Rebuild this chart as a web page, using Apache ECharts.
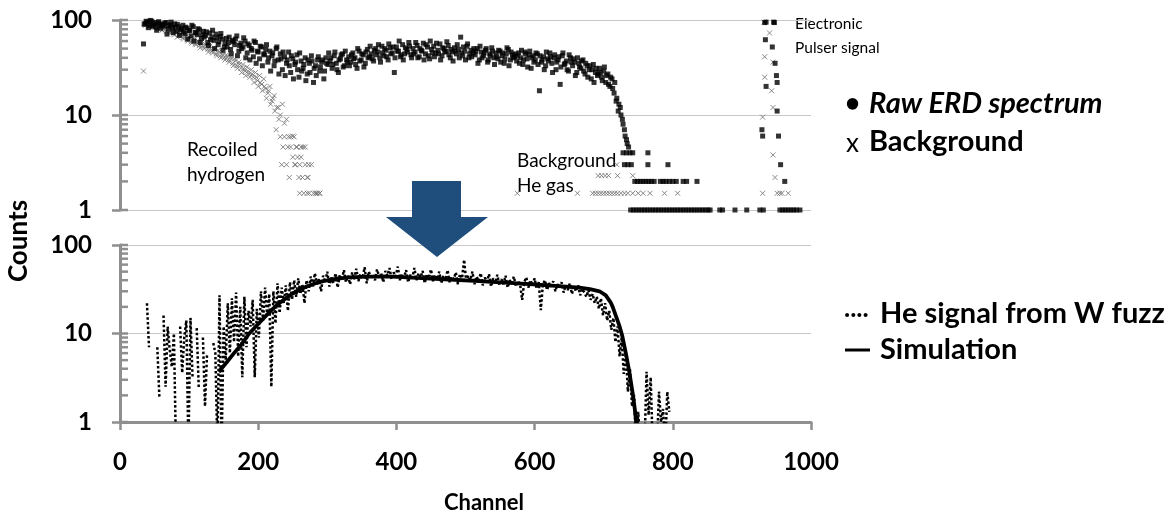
<!DOCTYPE html>
<html>
<head>
<meta charset="utf-8">
<script src="https://cdn.jsdelivr.net/npm/echarts@6/dist/echarts.min.js"></script>
<style>
  html, body { margin: 0; padding: 0; background: #ffffff; }
  #chart { width: 1176px; height: 518px; }
</style>
</head>
<body>
<div id="chart"></div>
<script>
// ---- axes ----
const channelTicks = [0, 200, 400, 600, 800, 1000];
const countTicks = [1, 10, 100];
const countMinorTicks = [1, 2, 3, 4, 5, 6, 7, 8, 9, 10, 20, 30, 40, 50, 60, 70, 80, 90, 100];

// ---- top panel: raw ERD spectrum, every 3 channels from channel 34 ----
const rawStart = 34, rawStep = 3;
const rawCounts = [
  56, 92, 95, 88, 97, 90, 84, 93, 87, 91,
  86, 94, 80, 89, 83, 91, 76, 85, 79, 88,
  72, 82, 77, 68, 85, 74, 70, 79, 64, 76,
  69, 58, 73, 66, 61, 71, 55, 67, 63, 52,
  64, 58, 49, 61, 55, 68, 47, 57, 52, 60,
  45, 54, 50, 41, 58, 47, 39, 52, 44, 49,
  36, 47, 42, 33, 50, 38, 44, 30, 41, 35,
  46, 28, 39, 34, 43, 25, 37, 31, 40, 27,
  35, 42, 22, 33, 38, 29, 36, 24, 40, 34,
  37, 31, 42, 35, 28, 39, 44, 33, 38, 41,
  36, 45, 40, 31, 47, 38, 43, 35, 49, 41,
  44, 37, 50, 46, 40, 53, 42, 48, 38, 51,
  45, 28, 52, 47, 41, 55, 44, 49, 58, 43,
  50, 46, 54, 41, 48, 57, 44, 52, 39, 49,
  53, 45, 48, 56, 42, 50, 47, 54, 40, 46,
  51, 44, 49, 66, 42, 47, 53, 40, 48, 45,
  43, 50, 38, 46, 42, 48, 36, 44, 51, 40,
  45, 39, 47, 42, 35, 44, 49, 38, 43, 41,
  37, 45, 40, 34, 46, 39, 43, 31, 42, 38,
  44, 18, 36, 41, 33, 39, 45, 35, 40, 30,
  38, 21, 42, 34, 37, 29, 40, 33, 36, 28,
  35, 31, 38, 27, 33, 30, 24, 34, 28, 26,
  31, 25, 29, 22, 27, 20, 24, 17, 14, 11,
  12, 9, 7, 5.5, 4.6
];
// raw ERD spectrum, the channels in between, every 3 channels from channel 35
const rawStartB = 35;
const rawCountsB = [
  90, 97, 83, 99, 86, 94, 78, 96, 82, 89,
  93, 71, 87, 95, 74, 84, 90, 69, 81, 75,
  84, 63, 78, 88, 60, 73, 81, 58, 70, 66,
  75, 54, 62, 78, 50, 65, 59, 72, 48, 57,
  52, 66, 44, 59, 63, 42, 54, 50, 65, 40,
  56, 38, 48, 60, 35, 46, 53, 33, 43, 55,
  40, 29, 45, 37, 52, 27, 39, 46, 26, 38,
  33, 42, 24, 36, 30, 45, 29, 34, 23, 38,
  28, 37, 31, 26, 41, 32, 38, 29, 35, 45,
  40, 34, 46, 30, 38, 43, 32, 47, 36, 33,
  43, 39, 34, 50, 37, 44, 32, 46, 40, 53,
  39, 48, 43, 55, 36, 45, 50, 41, 56, 44,
  52, 40, 47, 60, 43, 38, 51, 46, 53, 40,
  44, 58, 40, 50, 47, 38, 55, 42, 60, 45,
  41, 57, 44, 38, 51, 46, 59, 43, 49, 37,
  47, 55, 40, 45, 52, 38, 56, 44, 41, 50,
  47, 35, 53, 40, 45, 50, 38, 42, 47, 34,
  41, 48, 36, 45, 39, 51, 33, 46, 40, 44,
  42, 35, 48, 38, 44, 32, 47, 40, 36, 45,
  34, 42, 38, 30, 46, 37, 41, 28, 43, 36,
  41, 32, 45, 35, 30, 43, 36, 39, 26, 40,
  32, 37, 29, 35, 25, 33, 30, 22, 31, 27,
  28, 23, 32, 26, 21, 25, 19, 22, 15, 13,
  10, 8, 6, 5
];
// low-count tail of the raw spectrum [channel, counts]
const rawTail = [
  [728, 4], [733, 4], [738, 4], [742, 4], [764, 4],
  [730, 3], [735, 3], [740, 3], [764, 3], [793, 3],
  [745, 2], [749, 2], [753, 2], [757, 2], [761, 2], [765, 2], [769, 2], [773, 2],
  [782, 2], [786, 2], [790, 2], [795, 2], [800, 2], [805, 2], [815, 2], [820, 2], [835, 2], [962, 2],
  [739, 1], [743, 1], [747, 1], [751, 1], [755, 1], [759, 1], [763, 1], [767, 1], [771, 1], [775, 1],
  [779, 1], [783, 1], [787, 1], [791, 1], [795, 1], [799, 1], [803, 1], [807, 1], [811, 1], [815, 1],
  [819, 1], [823, 1], [827, 1], [831, 1], [835, 1], [839, 1], [843, 1], [847, 1], [851, 1], [854, 1],
  [868, 1], [872, 1], [890, 1], [907, 1], [926, 1], [931, 1],
  [955, 1], [959, 1], [963, 1], [967, 1], [971, 1], [975, 1], [979, 1], [984, 1]
];
// electronic pulser peak in the raw spectrum [channel, counts]
const rawPulser = [
  [929, 7], [930, 6], [933, 94], [935, 95], [934, 62], [935, 20], [944, 52], [946, 95],
  [947, 94], [948, 35], [950, 26], [951, 22], [951, 11], [953, 6], [956, 3]
];

// ---- top panel: background, every 3 channels from channel 34 ----
const bgStart = 34, bgStep = 3;
const bgCounts = [
  29, 88, 94, 85, 91, 83, 89, 80, 86, 78,
  84, 76, 81, 73, 79, 70, 75, 68, 72, 65,
  69, 62, 66, 59, 64, 56, 61, 54, 58, 52,
  55, 49, 53, 47, 51, 44, 48, 42, 46, 40,
  43, 38, 41, 35, 39, 33, 36, 31, 34, 29,
  32, 27, 30, 25, 28, 23, 26, 21, 24, 19,
  17, 20, 14, 16, 7, 12, 10, 13, 8.2, 9,
  5.9, 4.6, 6, 3, 4.6, 2.2, 3.6, 4.6, 3, 2.2,
  1.5, 3, 1.5, 1.5, 1.5, 1.5
];
// background, the channels in between, every 3 channels from channel 35
const bgStartB = 35;
const bgCountsB = [
  92, 95, 87, 97, 84, 90, 86, 82, 88, 80,
  79, 85, 74, 80, 71, 77, 66, 73, 69, 63,
  67, 60, 64, 57, 62, 55, 59, 51, 56, 50,
  53, 46, 50, 45, 49, 42, 46, 40, 43, 38,
  41, 36, 39, 33, 37, 31, 34, 28, 31, 26,
  29, 25, 27, 22, 25, 20, 22, 18, 20, 15,
  18, 13, 15, 11, 12, 9
];
// end of the recoiled hydrogen peak [channel, counts]
const bgHydrogenTail = [
  [232, 5.9], [238, 5.9], [247, 5.9], [252, 5.9], [236, 4.6], [243, 4.6], [255, 4.6], [262, 4.6],
  [268, 4.6], [250, 3.6], [257, 3.6], [234, 3], [241, 3], [254, 3], [260, 3], [273, 3],
  [245, 2.2], [264, 2.2], [272, 2.2], [260, 1.5], [266, 1.5], [271, 1.5], [284, 1.5], [289, 1.5]
];
// background He gas [channel, counts]
const bgHeGas = [
  [575, 1.5], [662, 1.5], [684, 1.5], [688, 1.5], [692, 1.5], [696, 1.5], [700, 1.5], [704, 1.5],
  [708, 1.5], [712, 1.5], [716, 1.5], [720, 1.5], [725, 1.5], [730, 1.5], [735, 1.5], [742, 1.5],
  [750, 1.5], [757, 1.5], [767, 1.5], [788, 1.5], [807, 1.5],
  [692, 2.3], [697, 2.3], [702, 2.3], [707, 2.3], [720, 2.3], [742, 2.3], [719, 3]
];
// pulser peak in the background [channel, counts]
const bgPulser = [
  [930, 9.5], [932, 95], [933, 41], [933, 25], [940, 73], [943, 18], [945, 36], [945, 12],
  [945, 3.8], [948, 2.2], [930, 1.5], [951, 1.5], [955, 1.5], [958, 1.5], [967, 1.5]
];

// ---- bottom panel: He signal from W fuzz, every 3 channels from channel 36 ----
// null = no counts; values below 1 fall under the axis
const heStart = 36, heStep = 3;
const heSignal = [
  null, 22, 7, null, null, null, 7, 1.9, null, 16,
  2.5, 12, 6.5, 4.2, 10, 0.5, null, 12, 3.6, 9,
  14, 0.5, 15, 3.2, null, 11.5, 2.4, null, 9, 1.5,
  6, null, null, 7.8, 6, 0.5, 27, 0.5, 12, 5,
  22, 6, 25, 8, 29, 5.5, 20, 3.2, 26, 7,
  18, 12, 24, 3.2, 19, 9, 30, 14, 33, 16,
  28, 2.5, 30, 13, 37, 17, 33, 22, 35, 18,
  38, 24, 40, 26, 42, 28, 36, 22, 40, 30,
  44, 33, 48, 36, 41, 30, 45, 38, 50, 34,
  43, 37, 48, 33, 46, 40, 52, 38, 45, 36,
  49, 41, 54, 39, 47, 42, 56, 37, 50, 43,
  46, 40, 53, 44, 48, 38, 51, 45, 55, 41,
  49, 44, 57, 40, 47, 43, 52, 38, 46, 42,
  55, 40, 48, 43, 51, 37, 47, 42, 53, 39,
  46, 41, 50, 37, 45, 40, 52, 38, 44, 41,
  49, 36, 47, 42, 68, 39, 45, 40, 50, 36,
  44, 39, 48, 35, 43, 38, 47, 34, 42, 37,
  46, 35, 41, 36, 45, 33, 40, 37, 44, 34,
  39, 36, 24, 38, 43, 33, 40, 35, 42, 32,
  38, 18.4, 36, 40, 31, 37, 34, 39, 30, 36,
  33, 38, 29, 35, 31, 37, 28, 34, 30, 35,
  27, 32, 29, 26, 31, 24, 28, 22, 26, 19,
  25, 16, 22, 14, 18, 11, 15, 8, 12, 5.5,
  9, 3.5, 6, 2.2, 4, 1.5, 2, 0.5, 1.3, 0.5,
  null, 0.5, 3.7, 1.2, 3.2, 0.5, null, 0.5, 2.2, 1,
  1.4, 0.5, 2.2, 1.3, null
];
// simulated spectrum [channel, counts]
const simulation = [
  [143, 3.7], [155, 4.8], [165, 6], [175, 7.4], [187, 10], [200, 12.8], [210, 15.5], [220, 18.6],
  [230, 21.8], [240, 25], [250, 28.3], [259, 31], [270, 34], [285, 37.5], [307, 41], [330, 43],
  [360, 44], [394, 44], [430, 42.5], [470, 41], [520, 39], [570, 37], [620, 35], [665, 33],
  [680, 31.8], [694, 30], [703, 27], [710, 22.5], [713, 20], [718, 15.5], [723, 12], [727, 9.3],
  [732, 6], [737, 3.7], [742, 2.1], [745, 1.4], [747, 1]
];

// ---- build series data ----
const stepped = (start, step, arr) => arr.map((v, i) => [start + step * i, v == null ? '-' : v]);
const rawData = stepped(rawStart, rawStep, rawCounts)
  .concat(stepped(rawStartB, rawStep, rawCountsB), rawTail, rawPulser);
const bgData = stepped(bgStart, bgStep, bgCounts)
  .concat(stepped(bgStartB, bgStep, bgCountsB), bgHydrogenTail, bgHeGas, bgPulser);
const heData = stepped(heStart, heStep, heSignal);

const FONT = 'Lato';
const AXIS_GREY = '#8f8f8f';
const GRID_GREY = '#c8c8c8';

function countAxis(gridIndex) {
  return {
    type: 'log', logBase: 10, gridIndex, min: 1, max: 100, position: 'left',
    axisLine: { show: true, onZero: false, lineStyle: { color: AXIS_GREY, width: 3 } },
    axisTick: { show: true, inside: false, length: 8, lineStyle: { color: AXIS_GREY, width: 2.5 } },
    axisLabel: {
      margin: 28, color: '#000', fontFamily: FONT, fontWeight: 'bold', fontSize: 24,
      customValues: countTicks, formatter: v => String(v)
    },
    splitLine: { show: true, lineStyle: { color: GRID_GREY, width: 1 } }
  };
}

// inner ticks of the count axis at 1..9 of every decade, placed on the log scale
function countInnerTicks(xAxisIndex, yAxisIndex) {
  return {
    type: 'custom', coordinateSystem: 'cartesian2d', xAxisIndex, yAxisIndex, silent: true, clip: false, z: 6,
    data: countMinorTicks.map(v => [0, v]),
    renderItem: (params, api) => {
      const p = api.coord([0, api.value(1)]);
      return {
        type: 'line',
        shape: { x1: p[0], y1: p[1], x2: p[0] + 8, y2: p[1] },
        style: { stroke: AXIS_GREY, lineWidth: 2.5 }
      };
    }
  };
}

const xSymbol = 'path://M0,0L10,10M0,10L10,0';
const legendFont = 'bold 29px Lato';

const option = {
  animation: false,
  backgroundColor: '#ffffff',
  textStyle: { fontFamily: FONT },
  grid: [
    { left: 120, top: 20, width: 691, height: 190 },
    { left: 120, top: 245, width: 691, height: 177 }
  ],
  xAxis: [
    { type: 'value', gridIndex: 0, min: 0, max: 1000, interval: 200, show: false },
    {
      type: 'value', gridIndex: 1, min: 0, max: 1000, interval: 200,
      axisLine: { show: true, onZero: false, lineStyle: { color: AXIS_GREY, width: 3 } },
      axisTick: { show: true, length: 8, lineStyle: { color: AXIS_GREY, width: 2.5 } },
      axisLabel: { margin: 28, color: '#000', fontFamily: FONT, fontWeight: 'bold', fontSize: 24,
        customValues: channelTicks, formatter: v => String(v) },
      splitLine: { show: false }
    }
  ],
  yAxis: [countAxis(0), countAxis(1)],
  series: [
    {
      name: 'Background', type: 'scatter', xAxisIndex: 0, yAxisIndex: 0, clip: false,
      symbol: xSymbol, symbolSize: 5,
      itemStyle: { color: 'rgba(0,0,0,0)', borderColor: '#6e6e6e', borderWidth: 1 },
      data: bgData, z: 2
    },
    {
      name: 'Raw ERD spectrum', type: 'scatter', xAxisIndex: 0, yAxisIndex: 0, clip: false,
      symbol: 'rect', symbolSize: 5, itemStyle: { color: '#000000' },
      data: rawData, z: 3
    },
    {
      name: 'He signal from W fuzz', type: 'line', xAxisIndex: 1, yAxisIndex: 1,
      showSymbol: false, connectNulls: false, clip: true,
      lineStyle: { color: '#000000', width: 2.5, type: [2.5, 2.2], cap: 'butt' },
      data: heData, z: 2
    },
    {
      name: 'Simulation', type: 'line', xAxisIndex: 1, yAxisIndex: 1,
      showSymbol: false, clip: true,
      lineStyle: { color: '#000000', width: 3.8 },
      data: simulation, z: 3
    },
    countInnerTicks(0, 0),
    countInnerTicks(1, 1)
  ],
  graphic: [
    // axis titles
    { type: 'text', x: 19, y: 241, rotation: Math.PI / 2,
      style: { text: 'Counts', font: 'bold 26px Lato', fill: '#000', align: 'center', verticalAlign: 'middle' } },
    { type: 'text', x: 484, y: 503,
      style: { text: 'Channel', font: 'bold 22px Lato', fill: '#000', align: 'center', verticalAlign: 'middle' } },
    // annotations
    { type: 'text', x: 187, y: 150, style: { text: 'Recoiled', font: '19px Lato', fill: '#000', verticalAlign: 'middle' } },
    { type: 'text', x: 187, y: 175, style: { text: 'hydrogen', font: '19px Lato', fill: '#000', verticalAlign: 'middle' } },
    { type: 'text', x: 517, y: 161, style: { text: 'Background', font: '19px Lato', fill: '#000', verticalAlign: 'middle' } },
    { type: 'text', x: 517, y: 186, style: { text: 'He gas', font: '19px Lato', fill: '#000', verticalAlign: 'middle' } },
    { type: 'text', x: 795, y: 24, style: { text: 'Electronic', font: '15.5px Lato', fill: '#000', verticalAlign: 'middle' } },
    { type: 'text', x: 795, y: 48, style: { text: 'Pulser signal', font: '15.5px Lato', fill: '#000', verticalAlign: 'middle' } },
    // top legend
    { type: 'text', x: 845, y: 104, style: { text: '•', font: 'bold 26px Lato', fill: '#000', verticalAlign: 'middle' } },
    { type: 'text', x: 869, y: 104, style: { text: 'Raw ERD spectrum', font: 'italic ' + legendFont, fill: '#000', verticalAlign: 'middle' } },
    { type: 'text', x: 846, y: 144, style: { text: 'x', font: '26px Lato', fill: '#000', verticalAlign: 'middle' } },
    { type: 'text', x: 869, y: 142, style: { text: 'Background', font: legendFont, fill: '#000', verticalAlign: 'middle' } },
    // bottom legend
    { type: 'text', x: 844, y: 309, style: { text: '....', font: 'bold 26px Lato', fill: '#000', verticalAlign: 'middle' } },
    { type: 'text', x: 880, y: 314, style: { text: 'He signal from W fuzz', font: legendFont, fill: '#000', verticalAlign: 'middle' } },
    { type: 'line', shape: { x1: 845, y1: 350, x2: 870, y2: 350 }, style: { stroke: '#000', lineWidth: 3 } },
    { type: 'text', x: 880, y: 350, style: { text: 'Simulation', font: legendFont, fill: '#000', verticalAlign: 'middle' } },
    // arrow between the panels
    { type: 'polygon', z: 100,
      shape: { points: [[412, 181], [461, 181], [461, 217], [488, 217], [437, 257], [386, 217], [412, 217]] },
      style: { fill: '#1f4e7d' } }
  ]
};

const chart = echarts.init(document.getElementById('chart'), null, { renderer: 'canvas' });
chart.setOption(option);
</script>
</body>
</html>
